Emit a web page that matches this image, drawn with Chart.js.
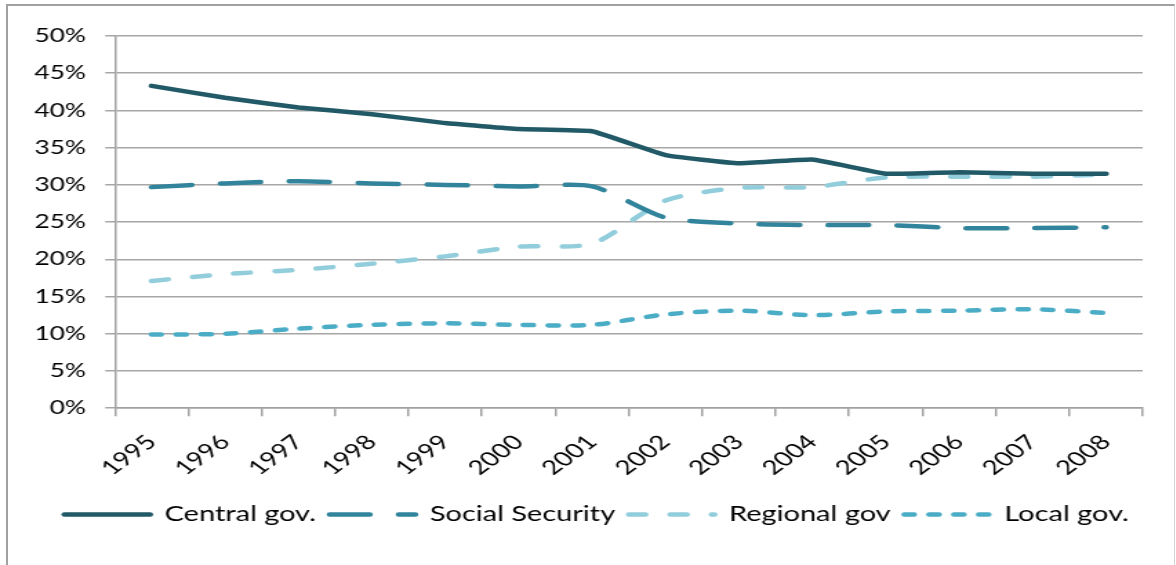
<!DOCTYPE html>
<html>
<head>
<meta charset="utf-8">
<script src="https://cdn.jsdelivr.net/npm/chart.js@4.4.1/dist/chart.umd.min.js"></script>
<style>
    body { margin: 0; background: #fff; }
    #frame { position: absolute; left: 6px; top: 4px; width: 1166px; height: 640px;
             border-left: 2px solid #a0a0a0; border-top: 2px solid #a0a0a0; border-right: 1px solid #d4d4d4; }
    #wrap { position: absolute; left: 0; top: 0; width: 852px; height: 565px;
            transform: scaleX(1.38); transform-origin: 0 0; }
</style>
</head>
<body>
<div id="frame"></div>
<div id="wrap"><canvas id="lineChart" width="852" height="565"></canvas></div>
<script>
var years = ["1995","1996","1997","1998","1999","2000","2001","2002","2003","2004","2005","2006","2007","2008"];
var centralGov = [43.3, 41.7, 40.4, 39.5, 38.3, 37.5, 37.2, 34.0, 32.9, 33.4, 31.5, 31.7, 31.5, 31.5];
var socialSecurity = [29.7, 30.2, 30.5, 30.2, 30.0, 29.8, 29.8, 25.6, 24.8, 24.6, 24.6, 24.2, 24.2, 24.3];
var regionalGov = [17.1, 18.0, 18.6, 19.4, 20.4, 21.7, 22.1, 27.9, 29.6, 29.7, 31.0, 31.1, 31.1, 31.4];
var localGov = [9.9, 10.0, 10.7, 11.2, 11.4, 11.2, 11.2, 12.6, 13.1, 12.5, 13.0, 13.1, 13.3, 12.8];
var seriesNames = ["Central gov.", "Social Security", "Regional gov", "Local gov."];

var fontFamily = "Lato, 'Open Sans', sans-serif";

var lineChartData = {
    labels: years,
    datasets: [
        {
            label: seriesNames[0],
            data: centralGov,
            borderColor: "#215967",
            tension: 0.1
        },
        {
            label: seriesNames[1],
            data: socialSecurity,
            borderColor: "#31849b",
            borderDash: [29, 21],
            tension: 0.25
        },
        {
            label: seriesNames[2],
            data: regionalGov,
            borderColor: "#92cddc",
            borderDash: [12, 18],
            tension: 0.25
        },
        {
            label: seriesNames[3],
            data: localGov,
            borderColor: "#4bacc6",
            borderDash: [7, 11],
            tension: 0.3
        }
    ]
};

// shared look for every line
lineChartData.datasets.forEach(function(ds){
    ds.fill = false;
    ds.borderWidth = 4.5;
    ds.pointRadius = 0;
    ds.borderCapStyle = "round";
    ds.borderJoinStyle = "round";
});

var lineChartOptions = {
    responsive: false,
    animation: false,
    devicePixelRatio: 1,
    layout: { padding: { left: 11, right: 24, top: 36, bottom: 30 } },
    plugins: {
        legend: {
            position: "bottom",
            align: "end",
            labels: {
                usePointStyle: true,
                pointStyle: "line",
                pointStyleWidth: 62,
                boxHeight: 21,
                padding: 10,
                color: "#000",
                font: { family: fontFamily, size: 21 },
                //legend samples take dash and width from the line itself
                generateLabels: function(chart){
                    var items = Chart.defaults.plugins.legend.labels.generateLabels(chart);
                    items.forEach(function(it){
                        var ds = chart.data.datasets[it.datasetIndex];
                        it.lineDash = ds.borderDash || [];
                        it.lineWidth = ds.borderWidth;
                        it.lineCap = "round";
                        it.strokeStyle = ds.borderColor;
                    });
                    return items;
                }
            }
        },
        tooltip: { enabled: false }
    },
    scales: {
        x: {
            offset: true,
            grid: { offset: true, drawOnChartArea: false, drawTicks: true, tickLength: 8, color: "#a0a0a0", lineWidth: 1.5 },
            border: { color: "#a0a0a0", width: 1.5 },
            ticks: { minRotation: 45, maxRotation: 45, padding: 14, color: "#000", font: { family: fontFamily, size: 20 } }
        },
        y: {
            min: 0,
            max: 50,
            grid: { color: "#a6a6a6", lineWidth: 1.5, tickLength: 7 },
            border: { color: "#a0a0a0", width: 1.5 },
            ticks: {
                stepSize: 5,
                padding: 14,
                color: "#000",
                font: { family: fontFamily, size: 19 },
                callback: function(v){ return v + "%"; }
            }
        }
    }
};

var lineChart = new Chart(document.getElementById("lineChart").getContext("2d"), {
    type: "line",
    data: lineChartData,
    options: lineChartOptions
});
</script>
</body>
</html>
